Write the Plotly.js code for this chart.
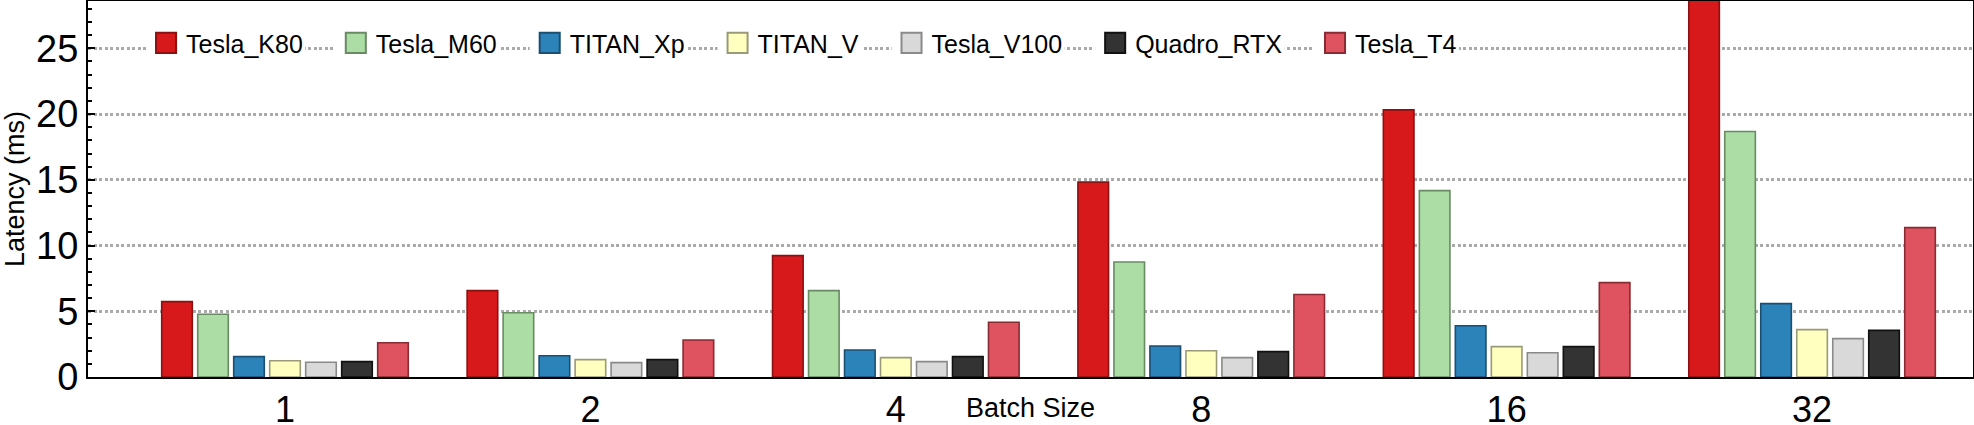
<!DOCTYPE html>
<html><head><meta charset="utf-8">
<script src="https://cdn.plot.ly/plotly-3.0.1.min.js"></script>
<style>html,body{margin:0;padding:0;background:#fff}</style>
</head><body>
<div id="chart" style="width:1974px;height:425px"></div>
<script>
// ---- data ----
const batchSizes = ["1", "2", "4", "8", "16", "32"];
const gpuNames = ["Tesla_K80", "Tesla_M60", "TITAN_Xp", "TITAN_V", "Tesla_V100", "Quadro_RTX", "Tesla_T4"];
const teslaK80  = [5.73, 6.57, 9.23, 14.82, 20.32, 29.5];
const teslaM60  = [4.77, 4.89, 6.57, 8.75, 14.18, 18.67];
const titanXp   = [1.55, 1.62, 2.05, 2.36, 3.90, 5.58];
const titanV    = [1.24, 1.32, 1.47, 2.00, 2.31, 3.60];
const teslaV100 = [1.12, 1.09, 1.17, 1.47, 1.85, 2.92];
const quadroRTX = [1.17, 1.32, 1.55, 1.93, 2.31, 3.55];
const teslaT4   = [2.61, 2.82, 4.16, 6.27, 7.18, 11.36];
const yTickVals = [0, 5, 10, 15, 20, 25];

// ---- styles ----
const seriesValues = [teslaK80, teslaM60, titanXp, titanV, teslaV100, quadroRTX, teslaT4];
const fills = ["#d7191c", "#abdda4", "#2b83ba", "#ffffbf", "#d9d9d9", "#333333", "#df525f"];
const lines = ["#8a1012", "#6a8a64", "#1b4f72", "#9a9a78", "#8a8a8a", "#111111", "#8a2a33"];
const FONT = "Liberation Sans, Arial, Helvetica, sans-serif";
const LEGEND_ITEM_GAP = 73; // px added after each legend label

const traces = gpuNames.map((name, i) => ({
  type: "bar",
  name: name,
  x: batchSizes,
  y: seriesValues[i],
  marker: { color: fills[i], line: { color: lines[i], width: 1.6 } },
  hoverinfo: "x+y+name"
}));

const layout = {
  width: 1974, height: 425,
  margin: { l: 88, r: 1, t: 1, b: 48 },
  paper_bgcolor: "#fff", plot_bgcolor: "#fff",
  barmode: "group", bargap: 0.175, bargroupgap: 0.15,
  font: { family: FONT, color: "#000" },
  showlegend: true,
  legend: {
    orientation: "h", x: 0.0308, xanchor: "left", y: 0.888, yanchor: "middle",
    font: { family: FONT, size: 25, color: "#000" },
    bgcolor: "rgba(0,0,0,0)", borderwidth: 0
  },
  xaxis: {
    type: "category", range: [-0.645, 5.527],
    showline: true, linewidth: 2, linecolor: "#000", mirror: true,
    ticks: "", showgrid: false, zeroline: false,
    tickfont: { family: FONT, size: 36, color: "#000" }
  },
  xaxis2: {
    type: "linear", overlaying: "x", side: "top", anchor: "y",
    range: [-0.31, 25.9], tick0: 0, dtick: 5,
    ticks: "inside", ticklen: 8, tickwidth: 1.5, tickcolor: "#000",
    minor: { dtick: 1, ticks: "inside", ticklen: 4, tickwidth: 1.5, tickcolor: "#000", showgrid: false },
    showticklabels: false, showgrid: false, showline: false, zeroline: false
  },
  yaxis: {
    range: [0, 28.6], tickvals: yTickVals,
    ticks: "inside", ticklen: 7, tickwidth: 1.5, tickcolor: "#000",
    minor: { dtick: 1, ticks: "inside", ticklen: 4, tickwidth: 1.5, tickcolor: "#000", showgrid: false },
    showgrid: true, gridcolor: "#aaaaaa", gridwidth: 2.5, griddash: "3px,2.5px",
    showline: true, linewidth: 2, linecolor: "#000", mirror: true, zeroline: false,
    tickfont: { family: FONT, size: 38, color: "#000" },
    title: { text: "Latency (ms)", font: { family: FONT, size: 27, color: "#000" }, standoff: 8 }
  },
  annotations: [{
    text: "Batch Size", xref: "paper", yref: "paper", x: 0.5, y: -0.0824,
    xanchor: "center", yanchor: "middle", showarrow: false,
    font: { family: FONT, size: 27, color: "#000" }
  }]
};

Plotly.newPlot("chart", traces, layout, { displayModeBar: false }).then(gd => {
  const sb = gd.querySelector(".legend .scrollbox");
  if (sb) sb.removeAttribute("clip-path");
  const items = Array.from(gd.querySelectorAll(".legend .traces"));
  let nextX = null;
  items.forEach((t, i) => {
    const m = /translate\(([-\d.]+)[ ,]+([-\d.]+)\)/.exec(t.getAttribute("transform") || "");
    const y = m ? +m[2] : 0;
    let x = m ? +m[1] : 0;
    if (nextX !== null) x = nextX;
    t.setAttribute("transform", "translate(" + x + "," + y + ")");
    const txt = t.querySelector("text.legendtext");
    const tw = txt ? txt.getComputedTextLength() : 100;
    nextX = x + tw + LEGEND_ITEM_GAP;
    const p = t.querySelector(".legendpoints path");
    if (p) {
      p.setAttribute("transform", "translate(20,0) scale(1.67)");
      p.style.vectorEffect = "non-scaling-stroke";
      p.style.strokeWidth = "2px";
    }
    const r = t.querySelector(".legendtoggle");
    if (r) { r.style.fill = "#fff"; r.style.fillOpacity = "1"; t.insertBefore(r, t.firstChild); }
  });
});
</script>
</body></html>
